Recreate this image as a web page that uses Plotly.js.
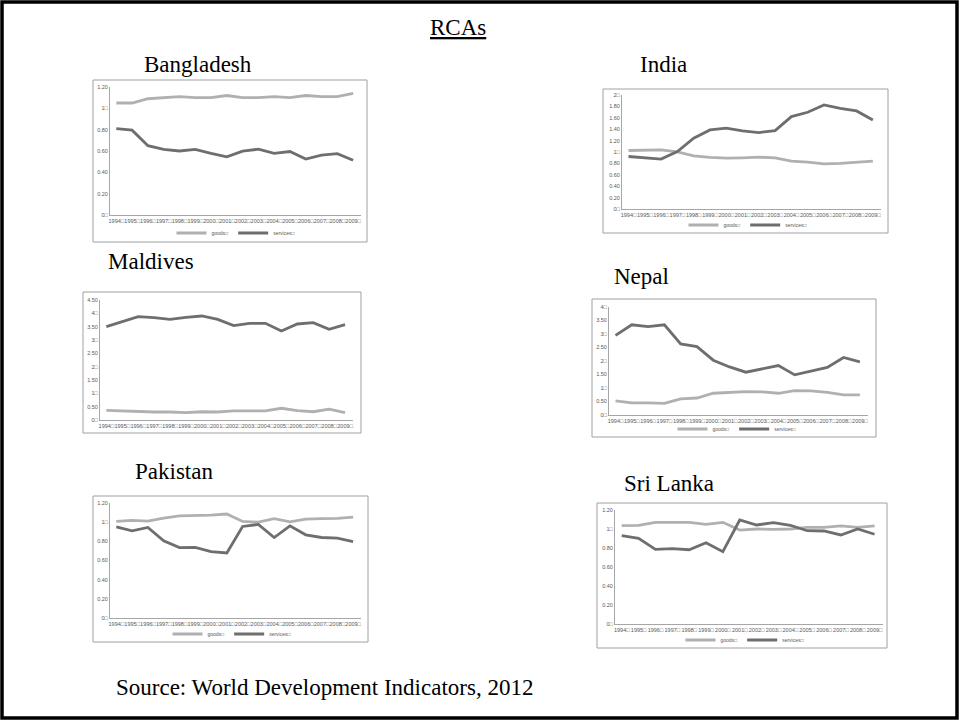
<!DOCTYPE html>
<html><head><meta charset="utf-8">
<script src="https://cdn.plot.ly/plotly-3.0.1.min.js"></script>
<style>html,body{margin:0;padding:0;background:#fff;}#chart{width:959px;height:722px;}</style>
</head><body><div id="chart"></div>
<script>
// ---------- data ----------
const years = ['1994□','1995□','1996□','1997□','1998□','1999□','2000□','2001□','2002□','2003□','2004□','2005□','2006□','2007□','2008□','2009□'];
const seriesNames = ['goods□', 'services□'];

const bangladeshGoods    = [1.05,1.05,1.09,1.10,1.11,1.10,1.10,1.12,1.10,1.10,1.11,1.10,1.12,1.11,1.11,1.14];
const bangladeshServices = [0.81,0.795,0.65,0.615,0.60,0.615,0.578,0.545,0.598,0.617,0.578,0.595,0.524,0.561,0.575,0.514];

const indiaGoods    = [1.026,1.038,1.038,1.003,0.933,0.904,0.892,0.898,0.910,0.898,0.840,0.822,0.793,0.799,0.816,0.840];
const indiaServices = [0.921,0.898,0.875,1.009,1.242,1.388,1.417,1.370,1.341,1.376,1.621,1.697,1.825,1.767,1.720,1.563];

const maldivesGoods    = [0.36,0.34,0.30,0.30,0.30,0.275,0.31,0.30,0.34,0.34,0.34,0.44,0.35,0.31,0.41,0.275];
const maldivesServices = [3.50,3.69,3.875,3.84,3.775,3.85,3.90,3.775,3.54,3.625,3.625,3.34,3.60,3.65,3.40,3.575];

const nepalGoods    = [0.52,0.446,0.446,0.433,0.594,0.63,0.805,0.84,0.867,0.855,0.805,0.904,0.89,0.84,0.743,0.743];
const nepalServices = [2.95,3.34,3.27,3.34,2.63,2.53,2.03,1.78,1.585,1.71,1.83,1.486,1.61,1.76,2.13,1.97];

const pakistanGoods    = [1.008,1.018,1.011,1.043,1.066,1.066,1.073,1.085,1.008,1.000,1.036,1.004,1.032,1.036,1.039,1.053];
const pakistanServices = [0.952,0.910,0.945,0.805,0.735,0.738,0.693,0.679,0.955,0.976,0.840,0.962,0.868,0.840,0.833,0.798];

const sriLankaGoods    = [1.035,1.039,1.070,1.067,1.070,1.049,1.070,0.989,1.000,0.996,1.000,1.018,1.018,1.032,1.018,1.032];
const sriLankaServices = [0.930,0.902,0.786,0.793,0.782,0.856,0.761,1.095,1.042,1.067,1.039,0.982,0.979,0.937,1.000,0.945];

const ticks12Vals = [0,0.2,0.4,0.6,0.8,1.0,1.2];
const ticks12Text = ['0□','0.20','0.40','0.60','0.80','1□','1.20'];
const ticks20Vals = [0,0.2,0.4,0.6,0.8,1.0,1.2,1.4,1.6,1.8,2.0];
const ticks20Text = ['0□','0.20','0.40','0.60','0.80','1□','1.20','1.40','1.60','1.80','2□'];
const ticks45Vals = [0,0.5,1,1.5,2,2.5,3,3.5,4,4.5];
const ticks45Text = ['0□','0.50','1□','1.50','2□','2.50','3□','3.50','4□','4.50'];
const ticks40Vals = [0,0.5,1,1.5,2,2.5,3,3.5,4];
const ticks40Text = ['0□','0.50','1□','1.50','2□','2.50','3□','3.50','4□'];

const countries = ['Bangladesh','India','Maldives','Nepal','Pakistan','Sri Lanka'];

// ---------- layout helpers ----------
const W = 959, H = 722;
const px = v => v / W;
const py = v => 1 - v / H;

const panels = [
  {name:countries[0], goods:bangladeshGoods, services:bangladeshServices, ymax:1.2, tv:ticks12Vals, tt:ticks12Text,
   dx:[110,361], dy:[215,87], box:[93,80,367,242], title:[142,64], legend:[236,233], showLegend:true},
  {name:countries[1], goods:indiaGoods, services:indiaServices, ymax:2.0, tv:ticks20Vals, tt:ticks20Text,
   dx:[622,881], dy:[209,95], box:[603,89,888,233], title:[638,64], legend:[748,225], showLegend:true},
  {name:countries[2], goods:maldivesGoods, services:maldivesServices, ymax:4.5, tv:ticks45Vals, tt:ticks45Text,
   dx:[100,353], dy:[420,300], box:[83,292,361,433], title:[106,261], legend:null, showLegend:false},
  {name:countries[3], goods:nepalGoods, services:nepalServices, ymax:4.0, tv:ticks40Vals, tt:ticks40Text,
   dx:[609,868], dy:[415,307], box:[592,299,876,437], title:[612,276], legend:[737,429], showLegend:true},
  {name:countries[4], goods:pakistanGoods, services:pakistanServices, ymax:1.2, tv:ticks12Vals, tt:ticks12Text,
   dx:[110,361], dy:[618,503], box:[93,496,368,642], title:[133,471], legend:[232,634], showLegend:true},
  {name:countries[5], goods:sriLankaGoods, services:sriLankaServices, ymax:1.2, tv:ticks12Vals, tt:ticks12Text,
   dx:[615,883], dy:[624,510], box:[597,503,887,648], title:[622,483], legend:[745,640], showLegend:true}
];

const goodsColor = '#b0b0b0';
const servColor = '#6e6e6e';
const axisColor = '#a6a6a6';
const tickFont = {family:'Liberation Sans, Arial, sans-serif', size:5.5, color:'#595959'};
const serif = 'Liberation Serif, Times New Roman, serif';

const data = [];
const layout = {
  width: W, height: H,
  margin: {l:0, r:0, t:0, b:0, pad:0},
  paper_bgcolor: '#ffffff', plot_bgcolor: 'rgba(0,0,0,0)',
  showlegend: true,
  shapes: [], annotations: []
};

panels.forEach((p, i) => {
  const n = i + 1;
  const xa = n === 1 ? 'x' : 'x' + n;
  const ya = n === 1 ? 'y' : 'y' + n;
  const legendId = n === 1 ? 'legend' : 'legend' + n;
  [[p.goods, goodsColor, seriesNames[0]], [p.services, servColor, seriesNames[1]]].forEach(s => {
    data.push({
      type: 'scatter', mode: 'lines', x: years, y: s[0], name: s[2],
      xaxis: xa, yaxis: ya, legend: legendId, showlegend: p.showLegend,
      line: {color: s[1], width: 2.8}, hoverinfo: 'skip'
    });
  });
  layout['xaxis' + (n === 1 ? '' : n)] = {
    domain: [px(p.dx[0]), px(p.dx[1])], anchor: ya, type: 'category',
    range: [-0.4, 15.5], tickmode: 'array', tickvals: years, ticktext: years,
    tickangle: 0, tickfont: tickFont, ticks: '', showgrid: false, zeroline: false,
    showline: true, linecolor: axisColor, linewidth: 1, fixedrange: true, automargin: false
  };
  layout['yaxis' + (n === 1 ? '' : n)] = {
    domain: [py(p.dy[0]), py(p.dy[1])], anchor: xa,
    range: [0, p.ymax], tickmode: 'array', tickvals: p.tv, ticktext: p.tt,
    tickfont: tickFont, ticks: '', showgrid: false, zeroline: false,
    showline: true, linecolor: axisColor, linewidth: 1, fixedrange: true, automargin: false
  };
  if (p.legend) {
    layout[legendId] = {
      x: px(p.legend[0]), y: py(p.legend[1]), xanchor: 'center', yanchor: 'middle',
      xref: 'paper', yref: 'paper',
      orientation: 'h', font: {family:'Liberation Sans, Arial, sans-serif', size: 5, color: '#595959'},
      bgcolor: 'rgba(0,0,0,0)', itemwidth: 30, tracegroupgap: 0
    };
  }
  layout.shapes.push({type:'rect', xref:'paper', yref:'paper',
    x0: px(p.box[0]), x1: px(p.box[2]), y0: py(p.box[1]), y1: py(p.box[3]),
    line: {color:'#a0a0a0', width:1}, fillcolor:'rgba(0,0,0,0)', layer:'below'});
  layout.annotations.push({text: p.name, xref:'paper', yref:'paper',
    x: px(p.title[0]), y: py(p.title[1]), xanchor:'left', yanchor:'middle', showarrow:false,
    font: {family: serif, size: 23, color:'#000'}});
});

// outer frame
layout.shapes.push({type:'rect', xref:'paper', yref:'paper',
  x0: px(2), x1: px(957), y0: py(2), y1: py(718),
  line: {color:'#000', width:3.5}, fillcolor:'rgba(0,0,0,0)'});

layout.annotations.push({text:'<u>RCAs</u>', xref:'paper', yref:'paper', x: px(458), y: py(28),
  xanchor:'center', yanchor:'middle', showarrow:false, font:{family: serif, size: 23, color:'#000'}});
layout.annotations.push({text:'Source: World Development Indicators, 2012', xref:'paper', yref:'paper',
  x: px(114), y: py(687), xanchor:'left', yanchor:'middle', showarrow:false,
  font:{family: serif, size: 23, color:'#000'}});

Plotly.newPlot('chart', data, layout, {staticPlot: true, displayModeBar: false});
</script>
</body></html>
